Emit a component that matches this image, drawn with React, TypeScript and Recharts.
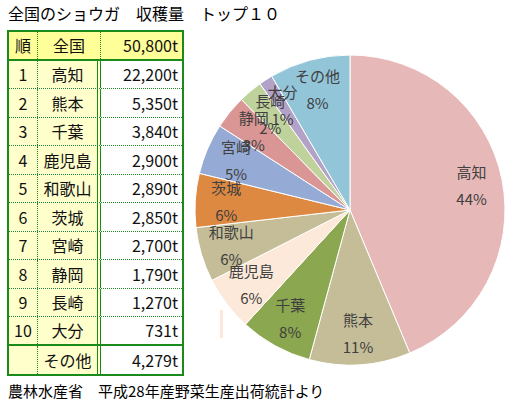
import { PieChart, Pie, Cell } from "recharts";

const regions = ["高知", "熊本", "千葉", "鹿児島", "和歌山", "茨城", "宮崎", "静岡", "長崎", "大分", "その他"];
const harvest = [22200, 5350, 3840, 2900, 2890, 2850, 2700, 1790, 1270, 731, 4279];
const pctLabels = ["44%", "11%", "8%", "6%", "6%", "6%", "5%", "3%", "2%", "1%", "8%"];
const ranks = ["1", "2", "3", "4", "5", "6", "7", "8", "9", "10", ""];
const totalHarvest = 50800;
const sliceColors = [
  "#E6B9B8", "#C4BD97", "#8BA74F", "#FDE9D9", "#C4BD97", "#DE8942",
  "#95AAD4", "#D99694", "#BFD29B", "#B3A2C7", "#93C5D8",
];

const pieData = regions.map((name, i) => ({ name, value: harvest[i] }));

const RADIAN = Math.PI / 180;
const FONT = "'Noto Sans CJK JP', 'Noto Sans', sans-serif";
const GREEN = "#1a8a1a";
const ROW_H = 28.5;

const fmt = (v: number) => v.toLocaleString("en-US") + "t";

const renderLabel = (props: any) => {
  const { cx, cy, midAngle, outerRadius, index } = props;
  const r = outerRadius * 0.8;
  const x = cx + r * Math.cos(-midAngle * RADIAN);
  const y = cy + r * Math.sin(-midAngle * RADIAN);
  return (
    <text x={x} y={y} textAnchor="middle" fill="#404040" fontSize={15} fontFamily={FONT}>
      <tspan x={x} y={y - 8}>{regions[index]}</tspan>
      <tspan x={x} y={y + 19}>{pctLabels[index]}</tspan>
    </text>
  );
};

function HarvestTable() {
  const dotted = `1px dotted ${GREEN}`;
  const solid = `2px solid ${GREEN}`;
  const base: React.CSSProperties = {
    boxSizing: "border-box",
    height: "100%",
    fontFamily: FONT,
    fontSize: 16,
    color: "#111",
    display: "flex",
    alignItems: "center",
    whiteSpace: "nowrap",
  };
  const rows = [
    { rank: "順", name: "全国", value: fmt(totalHarvest), header: true },
    ...regions.map((name, i) => ({ rank: ranks[i], name, value: fmt(harvest[i]), header: false })),
  ];
  return (
    <div
      style={{
        position: "absolute",
        left: 7,
        top: 30,
        width: 177,
        boxSizing: "border-box",
        border: solid,
      }}
    >
      {rows.map((row, i) => {
        const last = i === rows.length - 1;
        const bottom = last ? "none" : i === 0 || i === rows.length - 2 ? solid : dotted;
        const left = row.header ? "#FFFF99" : "#FFFFCC";
        return (
          <div key={i} style={{ display: "flex", height: ROW_H, boxSizing: "border-box", borderBottom: bottom }}>
            <div style={{ ...base, width: 29, justifyContent: "center", background: left, borderRight: dotted }}>{row.rank}</div>
            <div
              style={{
                ...base,
                width: 63,
                justifyContent: "center",
                background: left,
                borderRight: row.header ? dotted : `4px double ${GREEN}`,
              }}
            >
              {row.name}
            </div>
            <div style={{ ...base, flex: 1, justifyContent: "flex-end", paddingRight: 4, background: row.header ? "#FFFF99" : "#fff" }}>
              {row.value}
            </div>
          </div>
        );
      })}
    </div>
  );
}

export default function App() {
  return (
    <div style={{ position: "absolute", left: 0, top: 0, width: 513, height: 407, background: "#fff", overflow: "hidden" }}>
      <div style={{ position: "absolute", left: 8, top: 2, fontFamily: FONT, fontSize: 16, lineHeight: "22px", color: "#000", whiteSpace: "nowrap" }}>
        全国のショウガ　収穫量　トップ１０
      </div>
      <div style={{ position: "absolute", left: 0, top: 0 }}>
        <PieChart width={513} height={407} margin={{ top: 0, right: 0, bottom: 0, left: 0 }}>
          <Pie
            data={pieData}
            dataKey="value"
            nameKey="name"
            cx={350}
            cy={210}
            outerRadius={155}
            startAngle={90}
            endAngle={-270}
            stroke="#fff"
            strokeWidth={1}
            label={renderLabel}
            labelLine={false}
            isAnimationActive={false}
          >
            {pieData.map((d, i) => (
              <Cell key={d.name} fill={sliceColors[i]} />
            ))}
          </Pie>
        </PieChart>
      </div>
      <div style={{ position: "absolute", left: 220, top: 310, width: 3, height: 28, background: "#FDE9D9" }} />
      <HarvestTable />
      <div style={{ position: "absolute", left: 8, top: 380, fontFamily: FONT, fontSize: 15, lineHeight: "22px", color: "#000", whiteSpace: "nowrap" }}>
        農林水産省　平成28年産野菜生産出荷統計より
      </div>
    </div>
  );
}
